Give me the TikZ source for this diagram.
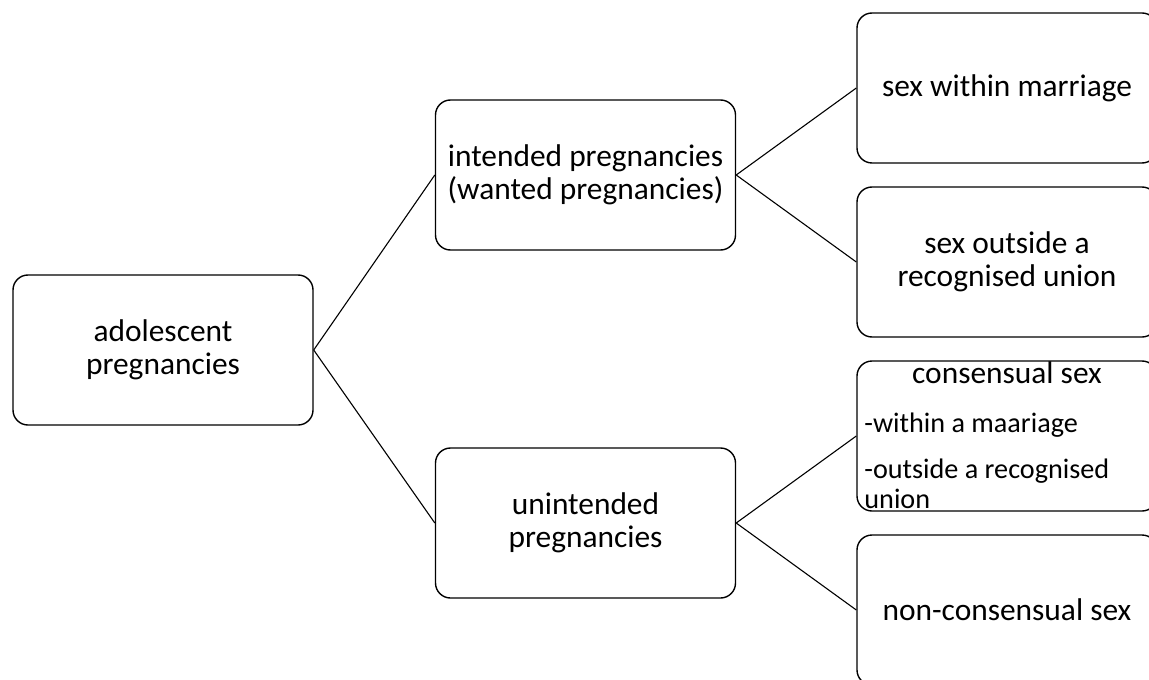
\documentclass[tikz,border=0pt]{standalone}
\usepackage{fontspec}
\setmainfont{Carlito}
\begin{document}
\begin{tikzpicture}[x=0.5pt, y=-0.5pt,
    txt/.style={font=\fontsize{15.7}{16.5}\selectfont},
    box/.style={txt, draw, rounded corners=7.5pt, line width=0.7pt,
        minimum width=150pt, minimum height=75pt, align=center, inner sep=2pt},
    line/.style={inner sep=0pt, txt},
    item/.style={inner sep=0pt, font=\fontsize{14.1}{15}\selectfont},
    link/.style={line width=0.55pt}]
    \useasboundingbox (0,0) rectangle (1149,679);
    \fill[white] (0,0) rectangle (1149,679);
    \clip (0,0) rectangle (1149,679);
    % left column
    \node[box] (adol) at (163,350) {adolescent\\pregnancies};
    % middle column
    \node[box] (intend) at (585.5,175) {intended pregnancies\\(wanted pregnancies)};
    \node[box] (unint) at (585.5,523) {unintended\\pregnancies};
    % right column
    \node[box] (marr) at (1007,88) {sex within marriage};
    \node[box] (outs) at (1007,262) {sex outside a\\recognised union};
    \node[box] (cons) at (1007,436) {};
    \node[box] (noncons) at (1007,610) {non-consensual sex};
    \node[line, anchor=base] (consT) at (1007,383) {consensual sex};
    \node[item, anchor=base west] (consW) at (864,432) {-within a maariage};
    \node[item, anchor=base west] (consO) at (864,478) {-outside a recognised};
    \node[item, anchor=base west] (consU) at (864,508) {union};
    % connectors
    \draw[link] (adol.east) -- (intend.west);
    \draw[link] (adol.east) -- (unint.west);
    \draw[link] (intend.east) -- (marr.west);
    \draw[link] (intend.east) -- (outs.west);
    \draw[link] (unint.east) -- (cons.west);
    \draw[link] (unint.east) -- (noncons.west);
\end{tikzpicture}
\end{document}
